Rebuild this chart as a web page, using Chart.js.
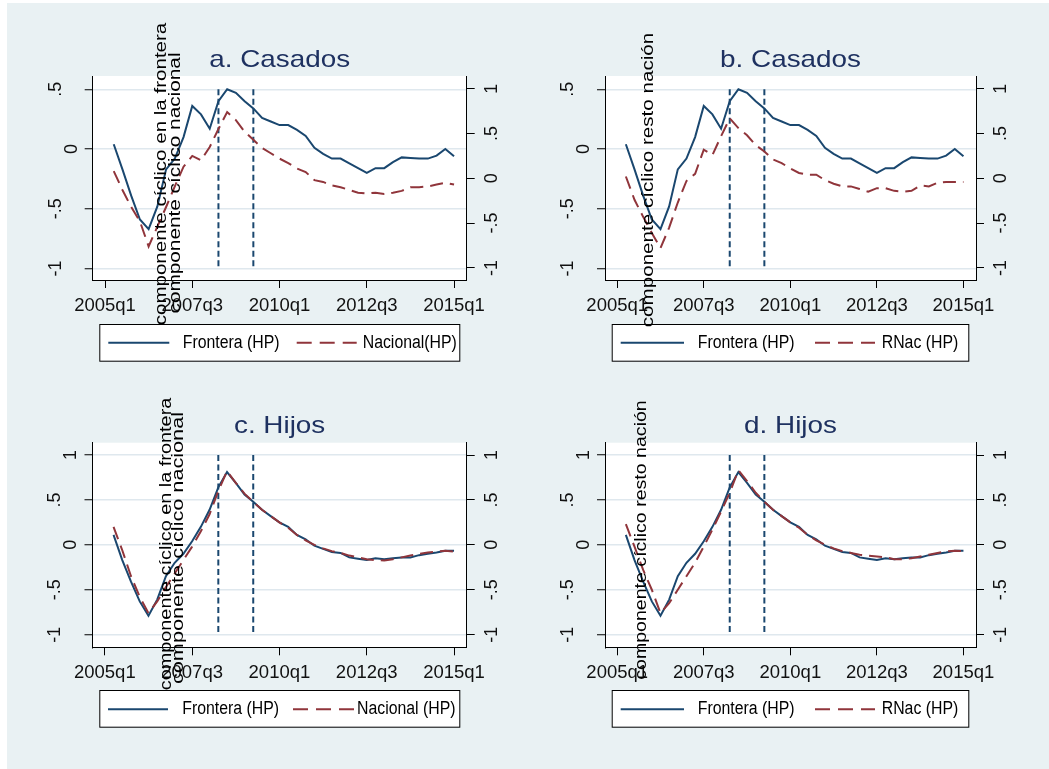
<!DOCTYPE html>
<html>
<head>
<meta charset="utf-8">
<script src="https://cdn.jsdelivr.net/npm/chart.js@4.4.1/dist/chart.umd.min.js"></script>
<style>
  body { margin: 0; width: 1049px; height: 769px; overflow: hidden; position: relative; background: #fff; }
  #bg { position: absolute; left: 7px; top: 3px; width: 1042px; height: 766px; background: #e9f1f3; }
  canvas { position: absolute; }
  .ytitle { position: absolute; font: 16px "Liberation Sans", Arial, sans-serif; color: #000; white-space: nowrap; line-height: 1; transform-origin: 50% 50%; }
</style>
</head>
<body>
<div id="bg"></div>
<canvas id="chartA" width="524" height="384" style="left:0px;top:0px;width:524px;height:384px"></canvas>
<canvas id="chartB" width="525" height="384" style="left:524px;top:0px;width:525px;height:384px"></canvas>
<canvas id="chartC" width="524" height="385" style="left:0px;top:384px;width:524px;height:385px"></canvas>
<canvas id="chartD" width="525" height="385" style="left:524px;top:384px;width:525px;height:385px"></canvas>
<script>
// trimestres (eje x)
const quarters = ['2005q2','2005q3','2005q4','2006q1','2006q2','2006q3','2006q4','2007q1','2007q2','2007q3',
  '2007q4','2008q1','2008q2','2008q3','2008q4','2009q1','2009q2','2009q3','2009q4','2010q1',
  '2010q2','2010q3','2010q4','2011q1','2011q2','2011q3','2011q4','2012q1','2012q2','2012q3',
  '2012q4','2013q1','2013q2','2013q3','2013q4','2014q1','2014q2','2014q3','2014q4','2015q1'];
const tickLabels = ['2005q1', '2007q3', '2010q1', '2012q3', '2015q1'];
const markQuarters = ['2008q2', '2009q2'];

// componente ciclico - casados
const fronteraCasados = [0.04, -0.17, -0.39, -0.59, -0.67, -0.48, -0.17, -0.08, 0.10, 0.36,
  0.29, 0.17, 0.40, 0.50, 0.47, 0.40, 0.34, 0.26, 0.23, 0.20,
  0.20, 0.16, 0.11, 0.01, -0.04, -0.08, -0.08, -0.12, -0.16, -0.20,
  -0.16, -0.16, -0.11, -0.07, -0.075, -0.08, -0.08, -0.055, 0.00, -0.06];
const nacionalCasados = [0.08, -0.13, -0.32, -0.48, -0.76, -0.54, -0.32, -0.09, 0.13, 0.25,
  0.20, 0.35, 0.55, 0.74, 0.65, 0.52, 0.43, 0.34, 0.28, 0.22,
  0.17, 0.11, 0.07, -0.02, -0.04, -0.08, -0.10, -0.13, -0.16, -0.17,
  -0.16, -0.175, -0.16, -0.14, -0.10, -0.10, -0.09, -0.07, -0.05, -0.07];
const rnacCasados = [0.02, -0.24, -0.43, -0.61, -0.78, -0.55, -0.27, -0.03, 0.05, 0.32,
  0.26, 0.47, 0.67, 0.56, 0.48, 0.37, 0.30, 0.21, 0.17, 0.11,
  0.06, 0.04, 0.04, -0.02, -0.06, -0.09, -0.09, -0.12, -0.15, -0.11,
  -0.11, -0.14, -0.15, -0.14, -0.08, -0.09, -0.05, -0.04, -0.04, -0.04];

// componente ciclico - hijos
const fronteraHijos = [0.11, -0.17, -0.41, -0.63, -0.79, -0.61, -0.35, -0.20, -0.10, 0.04,
  0.20, 0.39, 0.64, 0.81, 0.69, 0.56, 0.48, 0.39, 0.32, 0.25,
  0.20, 0.11, 0.06, -0.01, -0.045, -0.08, -0.09, -0.14, -0.155, -0.17,
  -0.15, -0.16, -0.15, -0.14, -0.14, -0.115, -0.10, -0.085, -0.065, -0.065];
const nacionalHijos = [0.20, -0.06, -0.35, -0.58, -0.76, -0.63, -0.47, -0.32, -0.17, -0.02,
  0.15, 0.34, 0.60, 0.82, 0.69, 0.57, 0.48, 0.39, 0.32, 0.25,
  0.19, 0.11, 0.05, 0.00, -0.04, -0.07, -0.09, -0.12, -0.14, -0.16,
  -0.17, -0.175, -0.16, -0.14, -0.12, -0.10, -0.085, -0.075, -0.065, -0.075];
const rnacHijos = [0.23, -0.02, -0.28, -0.50, -0.76, -0.65, -0.50, -0.35, -0.20, -0.02,
  0.17, 0.37, 0.58, 0.83, 0.71, 0.58, 0.48, 0.39, 0.32, 0.25,
  0.19, 0.11, 0.05, 0.00, -0.04, -0.07, -0.09, -0.11, -0.12, -0.13,
  -0.14, -0.16, -0.16, -0.15, -0.13, -0.11, -0.09, -0.075, -0.065, -0.07];

const NAVY = '#1a476f';
const MAROON = '#90353b';
const FONT = '"Liberation Sans", Arial, sans-serif';

// trimestre -> numero de trimestres desde 2005q1
function qIndex(s) {
  return (parseInt(s.slice(0, 4)) - 2005) * 4 + parseInt(s.slice(5)) - 1;
}
function toPoints(values) {
  return values.map((v, i) => ({ x: qIndex(quarters[i]), y: v }));
}
function fmtY(v) {
  return String(v).replace('0.', '.');
}

const stataPlugin = {
  id: 'stata',
  beforeDraw(chart) {
    const { ctx, chartArea: a } = chart;
    ctx.save();
    ctx.fillStyle = '#ffffff';
    ctx.fillRect(a.left, a.top, a.right - a.left, a.bottom - a.top);
    ctx.restore();
  },
  afterDraw(chart, args, opts) {
    const { ctx, chartArea: a } = chart;

    // titulo
    ctx.save();
    ctx.font = '24px ' + FONT;
    ctx.fillStyle = '#1e3160';
    ctx.textAlign = 'center';
    ctx.textBaseline = 'alphabetic';
    ctx.translate((a.left + a.right) / 2, opts.titleY);
    ctx.scale(1.16, 1);
    ctx.fillText(opts.title, 0, 0);
    ctx.restore();

    // etiquetas verticales de los ejes y
    ctx.save();
    ctx.font = '18px ' + FONT;
    ctx.fillStyle = '#111';
    ctx.textAlign = 'center';
    ctx.textBaseline = 'middle';
    chart.scales.y.ticks.forEach(t => {
      const txt = fmtY(t.value);
      const x = a.left - (txt.length === 1 ? 21 : 37);
      const y = chart.scales.y.getPixelForValue(t.value);
      ctx.save(); ctx.translate(x, y); ctx.rotate(-Math.PI / 2); ctx.fillText(txt, 0, 0); ctx.restore();
    });
    chart.scales.y2.ticks.forEach(t => {
      const txt = fmtY(t.value);
      const y = chart.scales.y2.getPixelForValue(t.value);
      ctx.save(); ctx.translate(a.right + 25, y); ctx.rotate(-Math.PI / 2); ctx.fillText(txt, 0, 0); ctx.restore();
    });
    ctx.restore();

    // leyenda
    const lg = opts.legend;
    ctx.save();
    ctx.fillStyle = '#ffffff';
    ctx.fillRect(lg.box[0], lg.box[1], lg.box[2] - lg.box[0], lg.box[3] - lg.box[1]);
    ctx.strokeStyle = '#000';
    ctx.lineWidth = 1;
    ctx.strokeRect(lg.box[0] + 0.5, lg.box[1] + 0.5, lg.box[2] - lg.box[0], lg.box[3] - lg.box[1]);
    lg.items.forEach((it, i) => {
      const ds = chart.data.datasets[i];
      ctx.strokeStyle = ds.borderColor;
      ctx.lineWidth = 2;
      ctx.setLineDash(ds.borderDash.length ? [15, 8] : []);
      ctx.beginPath();
      ctx.moveTo(it[0], lg.y);
      ctx.lineTo(it[1], lg.y);
      ctx.stroke();
      ctx.setLineDash([]);
      ctx.save();
      ctx.font = '18px ' + FONT;
      ctx.fillStyle = '#000';
      ctx.textAlign = 'left';
      ctx.textBaseline = 'middle';
      ctx.translate(it[2], lg.y);
      ctx.scale(0.88, 1);
      ctx.fillText(ds.label, 0, 0);
      ctx.restore();
    });
    ctx.restore();
  }
};

function makePanel(p) {
  const marks = markQuarters.map(q => ({
    label: '',
    data: [{ x: qIndex(q), y: p.vTop }, { x: qIndex(q), y: p.vBottom }],
    yAxisID: 'y',
    borderColor: NAVY,
    borderWidth: 2,
    borderDash: [6, 3.5],
    pointRadius: 0,
    order: 2
  }));
  const ctx = document.getElementById(p.id);
  new Chart(ctx, {
    type: 'line',
    data: {
      datasets: [
        {
          label: 'Frontera (HP)',
          data: toPoints(p.s1),
          yAxisID: 'y',
          borderColor: NAVY,
          borderWidth: 2,
          borderDash: [],
          pointRadius: 0,
          tension: 0,
          order: 1
        },
        {
          label: p.label2,
          data: toPoints(p.s2),
          yAxisID: 'y2',
          borderColor: MAROON,
          borderWidth: 2,
          borderDash: [13, 7],
          pointRadius: 0,
          tension: 0,
          order: 0
        }
      ].concat(marks)
    },
    options: {
      responsive: false,
      animation: false,
      layout: { padding: { top: p.area.t, left: 0, right: 0, bottom: 0 } },
      plugins: {
        legend: { display: false },
        tooltip: { enabled: false },
        stata: { title: p.title, titleY: p.titleY, legend: p.legend }
      },
      scales: {
        x: {
          type: 'linear',
          min: -1.41,
          max: 41.45,
          afterBuildTicks: s => { s.ticks = tickLabels.map(l => ({ value: qIndex(l) })); },
          afterFit: s => { s.height = p.h - p.area.b; },
          ticks: {
            autoSkip: false,
            maxRotation: 0,
            padding: 7,
            color: '#111',
            font: { family: FONT, size: 18.5 },
            callback: v => tickLabels.find(l => qIndex(l) === v)
          },
          grid: { drawOnChartArea: false, drawTicks: true, tickLength: 8, tickColor: '#000', tickWidth: 1 },
          border: { display: true, color: '#000', width: 1 }
        },
        y: {
          type: 'linear',
          position: 'left',
          min: p.yRange[0],
          max: p.yRange[1],
          afterBuildTicks: s => { s.ticks = p.yTicks.map(v => ({ value: v })); },
          afterFit: s => { s.width = p.area.l; },
          ticks: { display: false },
          grid: { color: '#dfe8ee', lineWidth: 1.5, drawTicks: true, tickLength: 8, tickColor: '#000', tickWidth: 1 },
          border: { display: true, color: '#000', width: 1 }
        },
        y2: {
          type: 'linear',
          position: 'right',
          min: p.y2Range[0],
          max: p.y2Range[1],
          afterBuildTicks: s => { s.ticks = p.y2Ticks.map(v => ({ value: v })); },
          afterFit: s => { s.width = p.w - p.area.r; },
          ticks: { display: false },
          grid: { drawOnChartArea: false, drawTicks: true, tickLength: 8, tickColor: '#000', tickWidth: 1 },
          border: { display: true, color: '#000', width: 1 }
        }
      }
    },
    plugins: [stataPlugin]
  });
}

const panels = [
  {
    id: 'chartA', w: 524, h: 384, area: { l: 92.7, r: 466.7, t: 76, b: 280 },
    title: 'a. Casados', titleY: 66.7, s1: fronteraCasados, s2: nacionalCasados, label2: 'Nacional(HP)',
    yRange: [-1.096, 0.611], yTicks: [-1, -0.5, 0, 0.5], y2Range: [-1.135, 1.142], y2Ticks: [-1, -0.5, 0, 0.5, 1],
    vTop: 0.5, vBottom: -1,
    legend: { box: [99.3, 324, 459.3, 360.7], y: 342.7, items: [[108.3, 169.3, 182.7], [296.7, 356.7, 362.7]] }
  },
  {
    id: 'chartB', w: 525, h: 384, area: { l: 81, r: 452, t: 76, b: 280 },
    title: 'b. Casados', titleY: 66.7, s1: fronteraCasados, s2: rnacCasados, label2: 'RNac (HP)',
    yRange: [-1.096, 0.611], yTicks: [-1, -0.5, 0, 0.5], y2Range: [-1.135, 1.142], y2Ticks: [-1, -0.5, 0, 0.5, 1],
    vTop: 0.5, vBottom: -1,
    legend: { box: [87.7, 324, 444.3, 360.7], y: 342.7, items: [[96.7, 160, 173.7], [291, 351, 357.7]] }
  },
  {
    id: 'chartC', w: 524, h: 385, area: { l: 92.5, r: 466.7, t: 58.7, b: 263.3 },
    title: 'c. Hijos', titleY: 49.3, s1: fronteraHijos, s2: nacionalHijos, label2: 'Nacional (HP)',
    yRange: [-1.141, 1.137], yTicks: [-1, -0.5, 0, 0.5, 1], y2Range: [-1.141, 1.137], y2Ticks: [-1, -0.5, 0, 0.5, 1],
    vTop: 1, vBottom: -1,
    legend: { box: [99.3, 306, 459.3, 342.7], y: 325.3, items: [[108, 168, 182.3], [293, 356, 357]] }
  },
  {
    id: 'chartD', w: 525, h: 385, area: { l: 81, r: 452, t: 58.7, b: 263.3 },
    title: 'd. Hijos', titleY: 49.3, s1: fronteraHijos, s2: rnacHijos, label2: 'RNac (HP)',
    yRange: [-1.141, 1.137], yTicks: [-1, -0.5, 0, 0.5, 1], y2Range: [-1.141, 1.137], y2Ticks: [-1, -0.5, 0, 0.5, 1],
    vTop: 1, vBottom: -1,
    legend: { box: [87.7, 306, 444.3, 342.7], y: 325.3, items: [[96.7, 160, 173.7], [291, 351, 357.7]] }
  }
];

panels.forEach(makePanel);

// titulos de eje y, desplazados sobre el grafico como en la figura original
function placeTitle(text, cx, cy, len) {
  const el = document.createElement('div');
  el.className = 'ytitle';
  el.textContent = text;
  document.body.appendChild(el);
  const w = el.offsetWidth, h = el.offsetHeight;
  el.style.left = (cx - w / 2) + 'px';
  el.style.top = (cy - h / 2) + 'px';
  el.style.transform = 'rotate(-90deg) scaleX(' + (len / w) + ')';
}
placeTitle('componente cíclico en la frontera', 161, 173.5, 303);
placeTitle('componente cíclico nacional', 174, 182.5, 261);
placeTitle('componente cíclico resto nación', 648, 179.5, 295);
placeTitle('componente cíclico en la frontera', 166, 543.5, 293);
placeTitle('componente cíclico nacional', 177.5, 548, 272);
placeTitle('componente cíclico resto nación', 641.5, 540, 280);
</script>
</body>
</html>
